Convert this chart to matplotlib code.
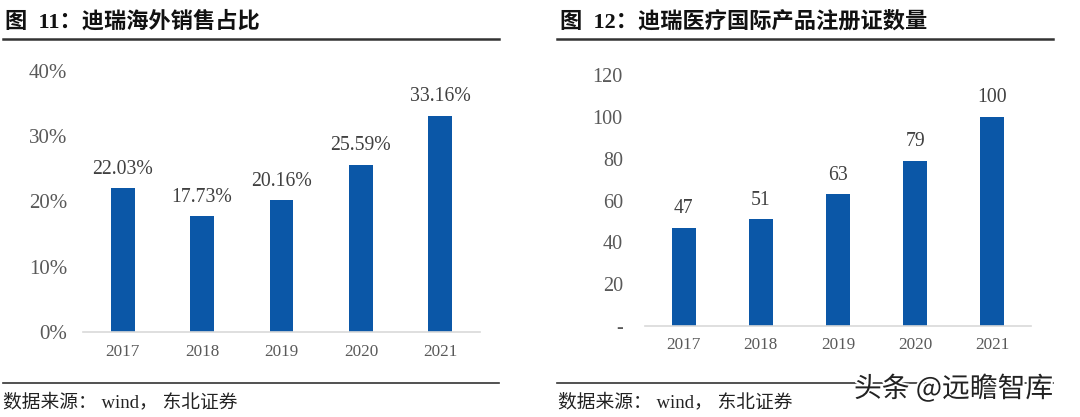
import matplotlib
matplotlib.use("Agg")
import matplotlib.pyplot as plt
import matplotlib.patheffects as pe

years = ["2017", "2018", "2019", "2020", "2021"]
overseas_share = [22.03, 17.73, 20.16, 25.59, 33.16]
share_labels = ["22.03%", "17.73%", "20.16%", "25.59%", "33.16%"]
reg_counts = [47, 51, 63, 79, 100]
left_yticks = [0, 10, 20, 30, 40]
left_yticklabels = ["0%", "10%", "20%", "30%", "40%"]
right_yticks = [0, 20, 40, 60, 80, 100, 120]
right_yticklabels = ["-", "20", "40", "60", "80", "100", "120"]

title_left = "图  11：迪瑞海外销售占比"
title_right = "图  12：迪瑞医疗国际产品注册证数量"
source = "数据来源： wind， 东北证券"
watermark = "头条 @远瞻智库"

W, H = 1080, 417
fig = plt.figure(figsize=(W / 100, H / 100), dpi=100)

SERIF = ["Liberation Serif", "Noto Sans CJK SC"]
BAR = "#0B57A7"
AX = "#D9D9D9"
TICK = "#595959"

def px_axes(x0, x1, ytop, ybot):
    return fig.add_axes([x0 / W, 1 - ybot / H, (x1 - x0) / W, (ybot - ytop) / H])

def style(ax, ylim, yticks, ylabels, ypad, xpad, ysize):
    ax.set_xlim(-0.5, len(years) - 0.5)
    ax.set_ylim(*ylim)
    for s in ["top", "right", "left"]:
        ax.spines[s].set_visible(False)
    ax.spines["bottom"].set_color(AX)
    ax.spines["bottom"].set_linewidth(1.2)
    ax.set_yticks(yticks)
    ax.set_yticklabels(ylabels, fontfamily=SERIF, fontsize=ysize, color=TICK)
    ax.set_xticks(range(len(years)))
    ax.set_xticklabels(years, fontfamily=SERIF, fontsize=12.3, color=TICK)
    ax.tick_params(axis="y", length=0, pad=ypad)
    ax.tick_params(axis="x", length=0, pad=xpad)

# Left chart
ax1 = px_axes(83, 480, 71, 332)
ax1.bar(range(len(years)), overseas_share, width=0.30, color=BAR)
for i, (v, lab) in enumerate(zip(overseas_share, share_labels)):
    ax1.annotate(lab, (i, v), xytext=(0, 7), textcoords="offset points",
                 ha="center", va="bottom", fontfamily=SERIF, fontsize=14.2, color="#404040")
style(ax1, (0, 40), left_yticks, left_yticklabels, 11.5, 9, 15)

# Right chart
ax2 = px_axes(645, 1031, 75, 326)
ax2.bar(range(len(years)), reg_counts, width=0.31, color=BAR)
for i, v in enumerate(reg_counts):
    ax2.annotate(str(v), (i, v), xytext=(0, 7), textcoords="offset points",
                 ha="center", va="bottom", fontfamily=SERIF, fontsize=14.2, color="#404040")
style(ax2, (0, 120), right_yticks, right_yticklabels, 16, 8, 14.5)

# Titles, rules, sources
def fx(x): return x / W
def fy(y): return 1 - y / H

fig.text(fx(5), fy(22), title_left, fontfamily=SERIF, fontsize=16,
         fontweight="bold", va="center", ha="left", color="#111111")
fig.text(fx(560), fy(22), title_right, fontfamily=SERIF, fontsize=16,
         fontweight="bold", va="center", ha="left", color="#111111")

for (x0, x1) in [(3, 499), (557, 1053)]:
    fig.add_artist(plt.Line2D([fx(x0), fx(x1)], [fy(38.5), fy(38.5)], color="#333333", lw=1.8))
    fig.add_artist(plt.Line2D([fx(x0), fx(x1)], [fy(383), fy(383)], color="#333333", lw=1.2))

fig.text(fx(3), fy(402), source, fontfamily=SERIF, fontsize=13.5, va="center", ha="left", color="#222222")
fig.text(fx(558), fy(402), source, fontfamily=SERIF, fontsize=13.5, va="center", ha="left", color="#222222")

fig.text(fx(1053), fy(389), watermark, fontfamily=["Noto Sans CJK SC", "DejaVu Sans"],
         fontsize=20, va="center", ha="right", color="#222222",
         path_effects=[pe.withStroke(linewidth=3, foreground="white")])

fig.savefig("out.png", dpi=100, facecolor="white")
